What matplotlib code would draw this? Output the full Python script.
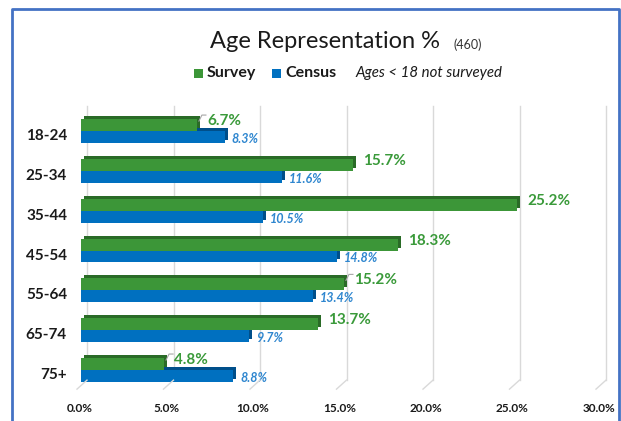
import matplotlib
matplotlib.use("Agg")
import matplotlib.pyplot as plt
from matplotlib.transforms import offset_copy, blended_transform_factory, IdentityTransform
from matplotlib.lines import Line2D
from matplotlib.patches import Rectangle

categories = ["18-24", "25-34", "35-44", "45-54", "55-64", "65-74", "75+"]
survey = [6.7, 15.7, 25.2, 18.3, 15.2, 13.7, 4.8]
census = [8.3, 11.6, 10.5, 14.8, 13.4, 9.7, 8.8]
xticks = [0, 5, 10, 15, 20, 25, 30]
xtick_labels = ["0.0%", "5.0%", "10.0%", "15.0%", "20.0%", "25.0%", "30.0%"]

FONT = ["Lato", "DejaVu Sans"]
plt.rcParams['font.family'] = FONT

W, H = 621, 421
fig = plt.figure(figsize=(W / 100, H / 100), dpi=100)

left_px, right_px = 81, 600
top_px, bot_px = 100, 398
ax = fig.add_axes([left_px / W, 1 - bot_px / H, (right_px - left_px) / W, (bot_px - top_px) / H])
row_px = 39.8
y0_px = 131
ax.set_xlim(0, 30)
ax.set_ylim(6 + (bot_px - 370) / row_px, -(y0_px - top_px) / row_px)
for s in ax.spines.values():
    s.set_visible(False)
ax.set_xticks([])
ax.set_yticks([])
ax.patch.set_alpha(0)

green, green_dk = "#3C9638", "#2A6B27"
blue, blue_dk = "#0070C0", "#004F8A"
green_txt, blue_txt = "#3A9A3A", "#2E86CF"
grid_c = "#D9D9D9"

gt = blended_transform_factory(ax.transData, ax.transAxes)
for v in xticks:
    back = offset_copy(gt, fig=fig, x=6, y=0, units='dots')
    ax.plot([v, v], [0.06, 0.98], color=grid_c, lw=1, transform=back, zorder=0, clip_on=False)
    px, py = ax.transData.transform((v, 0))
    _, ybot = gt.transform((v, 0.06))
    fig.add_artist(Line2D([px + 6, px - 4], [ybot, ybot - 9], color=grid_c, lw=1,
                          transform=IdentityTransform()))

bh = 0.30
ys = list(range(len(categories)))
depth = 3

def bar3d(yc, val, face, dark):
    back = offset_copy(ax.transData, fig=fig, x=depth, y=depth, units='dots')
    ax.add_patch(Rectangle((0, yc - bh / 2), val, bh, facecolor=dark, edgecolor='none',
                           transform=back, zorder=2))
    ax.add_patch(Rectangle((0, yc - bh / 2), val, bh, facecolor=face, edgecolor='none', zorder=3))

for i, y in enumerate(ys):
    bar3d(y - bh / 2, survey[i], green, green_dk)
    bar3d(y + bh / 2, census[i], blue, blue_dk)

for i, y in enumerate(ys):
    t = offset_copy(ax.transData, fig=fig, x=10, y=4, units='dots')
    ax.text(survey[i], y - bh / 2, f"{survey[i]:.1f}%", transform=t, color=green_txt,
            fontsize=11, fontweight='bold', va='center', ha='left', zorder=5)
    t2 = offset_copy(ax.transData, fig=fig, x=7, y=-2, units='dots')
    ax.text(census[i], y + bh / 2, f"{census[i]:.1f}%", transform=t2, color=blue_txt,
            fontsize=9, fontweight='bold', fontstyle='italic', va='center', ha='left', zorder=5)
    tl = offset_copy(ax.transData, fig=fig, x=-14, y=-5, units='dots')
    ax.text(0, y, categories[i], transform=tl, ha='right', va='center', fontsize=11,
            fontweight='bold', color='#1a1a1a')

for i, y in enumerate(ys):
    if survey[i] in (6.7, 15.2, 4.8):
        px, py = ax.transData.transform((survey[i], y - bh))
        fig.add_artist(Line2D([px + 2, px + 5, px + 9], [py - 2, py + 4, py + 4],
                              color="#A6A6A6", lw=0.8, transform=IdentityTransform()))

for v, lab in zip(xticks, xtick_labels):
    px, _ = ax.transData.transform((v, 0))
    fig.text((px - 1) / W, 1 - 408 / H, lab, ha='center', va='center', fontsize=8.5,
             fontweight='bold', color='#1a1a1a')

fig.text(325 / W, 1 - 42 / H, "Age Representation %", ha='center', va='center', fontsize=17,
         color='#1a1a1a')
fig.text(453 / W, 1 - 45 / H, "(460)", ha='left', va='center', fontsize=9, color='#333333')

fig.add_artist(Rectangle((194 / W, 1 - 78 / H), 9 / W, 9 / H, facecolor=green, edgecolor='none',
                         transform=fig.transFigure))
fig.text(207 / W, 1 - 73 / H, "Survey", ha='left', va='center', fontsize=11.5, fontweight='bold',
         color='#1a1a1a')
fig.add_artist(Rectangle((272 / W, 1 - 78 / H), 9 / W, 9 / H, facecolor=blue, edgecolor='none',
                         transform=fig.transFigure))
fig.text(285 / W, 1 - 73 / H, "Census", ha='left', va='center', fontsize=11.5, fontweight='bold',
         color='#1a1a1a')
fig.text(355 / W, 1 - 73 / H, "Ages < 18 not surveyed", ha='left', va='center', fontsize=10.8,
         fontstyle='italic', color='#1a1a1a')

frame_c = "#4472C4"
fig.add_artist(Line2D([12, 12, 619, 619], [-5, H - 9, H - 9, -5], color=frame_c, lw=2,
                      transform=IdentityTransform()))

fig.savefig("out.png", dpi=100)
